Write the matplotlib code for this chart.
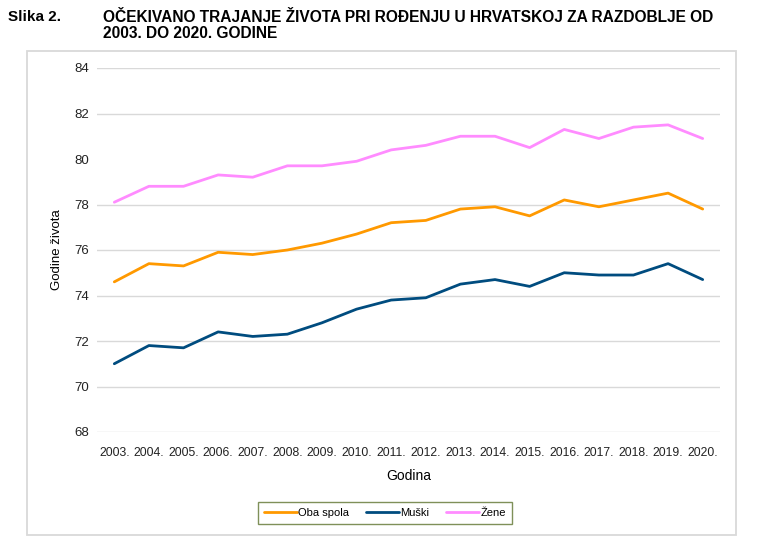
import matplotlib
matplotlib.use("Agg")
import matplotlib.pyplot as plt
from matplotlib.patches import Rectangle

# podaci
godine = ["2003.", "2004.", "2005.", "2006.", "2007.", "2008.", "2009.", "2010.", "2011.",
          "2012.", "2013.", "2014.", "2015.", "2016.", "2017.", "2018.", "2019.", "2020."]
oba_spola = [74.6, 75.4, 75.3, 75.9, 75.8, 76.0, 76.3, 76.7, 77.2,
             77.3, 77.8, 77.9, 77.5, 78.2, 77.9, 78.2, 78.5, 77.8]
muski = [71.0, 71.8, 71.7, 72.4, 72.2, 72.3, 72.8, 73.4, 73.8,
         73.9, 74.5, 74.7, 74.4, 75.0, 74.9, 74.9, 75.4, 74.7]
zene = [78.1, 78.8, 78.8, 79.3, 79.2, 79.7, 79.7, 79.9, 80.4,
        80.6, 81.0, 81.0, 80.5, 81.3, 80.9, 81.4, 81.5, 80.9]
y_ticks = [68, 70, 72, 74, 76, 78, 80, 82, 84]

FONT = ["Liberation Sans", "DejaVu Sans"]

fig = plt.figure(figsize=(7.65, 5.37), dpi=100)

# okvir grafikona
fig.patches.append(Rectangle((27 / 765, 1 - 535 / 537), (736 - 27) / 765, (535 - 51) / 537,
                             transform=fig.transFigure, fill=False,
                             edgecolor="#d9d9d9", linewidth=1.3))

# naslov
fig.text(8 / 765, 1 - 17 / 537, "Slika 2.", family=FONT, fontweight="bold",
         fontsize=11, va="center", ha="left")
fig.text(103 / 765, 1 - 17 / 537, "OČEKIVANO TRAJANJE ŽIVOTA PRI ROĐENJU U HRVATSKOJ ZA RAZDOBLJE OD",
         family=FONT, fontweight="bold", fontsize=11.2, va="center", ha="left")
fig.text(103 / 765, 1 - 34 / 537, "2003. DO 2020. GODINE",
         family=FONT, fontweight="bold", fontsize=11.2, va="center", ha="left")

ax = fig.add_axes([97 / 765, 1 - 432 / 537, (720 - 97) / 765, (432 - 68) / 537])
x = range(len(godine))
ax.plot(x, oba_spola, color="#ff9900", linewidth=2.0, label="Oba spola", solid_capstyle="round")
ax.plot(x, muski, color="#004c7f", linewidth=2.0, label="Muški", solid_capstyle="round")
ax.plot(x, zene, color="#ff8cff", linewidth=2.0, label="Žene", solid_capstyle="round")

ax.set_xlim(-0.5, len(godine) - 0.5)
ax.set_ylim(68, 84)
ax.set_yticks(y_ticks)
ax.set_xticks(list(x))
ax.set_xticklabels(godine, family=FONT, fontsize=8.8, color="#222222")
ax.set_yticklabels([str(v) for v in y_ticks], family=FONT, fontsize=9.5, color="#222222")
ax.tick_params(length=0, pad=6)
ax.tick_params(axis="x", pad=11)
for s in ax.spines.values():
    s.set_visible(False)

# mreža (linija za 80 nedostaje u izvorniku)
for v in y_ticks:
    if v != 80:
        ax.axhline(v, color="#d9d9d9", linewidth=1.0, zorder=0)

ax.set_xlabel("Godina", family=FONT, fontsize=10, labelpad=7)
ax.set_ylabel("Godine života", family=FONT, fontsize=9.5, labelpad=8)

leg = ax.legend(loc="center", bbox_to_anchor=(385 / 765, 1 - 513 / 537),
                bbox_transform=fig.transFigure, ncol=3, frameon=True, fancybox=False,
                prop={"family": FONT, "size": 8}, handlelength=3.0, handletextpad=0.1,
                columnspacing=1.5, borderpad=0.5)
leg.get_frame().set_edgecolor("#5f7530")
leg.get_frame().set_linewidth(1.0)

fig.savefig("out.png", dpi=100)
